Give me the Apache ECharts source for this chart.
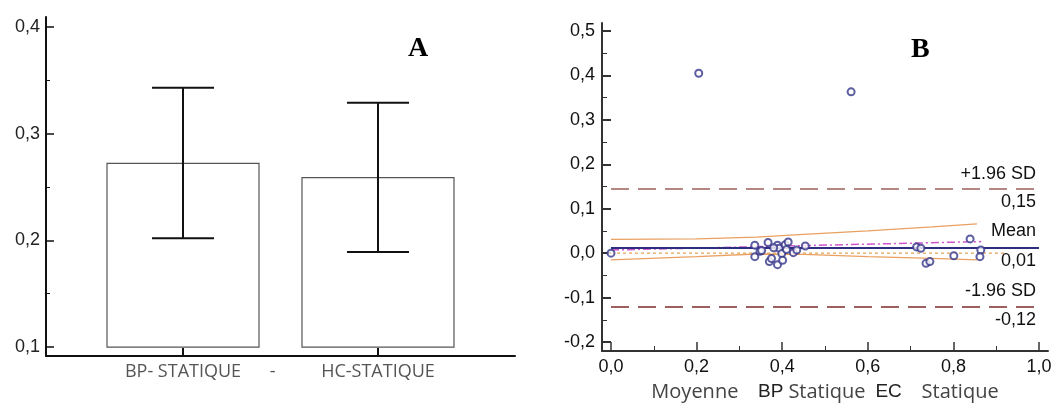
<!DOCTYPE html>
<html>
<head>
<meta charset="utf-8">
<script src="https://cdn.jsdelivr.net/npm/echarts@6/dist/echarts.min.js"></script>
<style>
  html, body { margin: 0; padding: 0; background: #fff; }
  #chart { width: 1056px; height: 405px; }
</style>
</head>
<body>
<div id="chart"></div>
<script>
// Panel A : moyennes et IC
const catLabelsA = ['BP- STATIQUE', '-', 'HC-STATIQUE'];
const catSlotsA = [1, 1.46, 2];
const barXA = [1, 2];
const meansA = [0.2722, 0.2588];
const lowA = [0.2019, 0.1891];
const highA = [0.3431, 0.3290];
const baseA = 0.1;
const yTicksA = [0.1, 0.2, 0.3, 0.4];
const yMinorA = [0.15, 0.25, 0.35];

// Panel B : Bland-Altman
const meanB = [0.000, 0.205, 0.561, 0.336, 0.336, 0.348, 0.367, 0.370, 0.375, 0.389,
  0.389, 0.393, 0.399, 0.401, 0.407, 0.414, 0.410, 0.426, 0.434, 0.454,
  0.714, 0.724, 0.736, 0.745, 0.801, 0.839, 0.864, 0.862, 0.352, 0.380];
const diffB = [0.000, 0.405, 0.363, 0.018, -0.008, 0.004, 0.024, -0.019, -0.012, 0.018,
  -0.026, 0.011, -0.001, -0.016, 0.019, 0.025, 0.008, 0.001, 0.007, 0.016,
  0.014, 0.011, -0.023, -0.019, -0.006, 0.032, 0.007, -0.008, 0.006, 0.012];
const meanDiff = 0.013;
const sdHigh = 0.146;
const sdLow = -0.12;
const limitLabels = ['+1.96 SD', '0,15', 'Mean', '0,01', '-1.96 SD', '-0,12'];
const regX = [0, 0.865];
const regY = [0.007, 0.026];
const ciX = [0, 0.2, 0.34, 0.45, 0.6, 0.75, 0.855];
const ciUpper = [0.031, 0.032, 0.036, 0.042, 0.050, 0.059, 0.066];
const ciLower = [-0.015, -0.008, -0.002, -0.003, -0.008, -0.012, -0.015];
const zeroLineX = [0, 0.92];
const xTicksB = [0, 0.2, 0.4, 0.6, 0.8, 1.0];
const xMinorB = [0.1, 0.3, 0.5, 0.7, 0.9];
const yTicksB = [-0.2, -0.1, 0, 0.1, 0.2, 0.3, 0.4, 0.5];
const yMinorB = [-0.15, -0.05, 0.05, 0.15, 0.25, 0.35, 0.45];

const comma = (v) => v.toFixed(1).replace('.', ',');

const chart = echarts.init(document.getElementById('chart'));

const tickAxis = (extra) => Object.assign({
  type: 'value',
  splitLine: { show: false }
}, extra);

const noLine = { show: false, onZero: false };
const hidden = 'rgba(0,0,0,0)';

const option = {
  animation: false,
  backgroundColor: '#fff',
  grid: [
    { left: 46, top: 17, width: 469, height: 339, outerBoundsMode: 'none' },
    { left: 602, top: 23, width: 446, height: 328, outerBoundsMode: 'none' }
  ],
  xAxis: [
    tickAxis({
      gridIndex: 0, min: 0.2974, max: 2.7026,
      axisLine: { onZero: false, lineStyle: { color: '#111', width: 2 } },
      axisTick: { inside: true, length: 8, customValues: barXA, lineStyle: { color: '#111', width: 2 } },
      axisLabel: {
        customValues: catSlotsA, margin: 7, fontSize: 18, color: '#555',
        fontFamily: 'Open Sans',
        formatter: (v) => catLabelsA[catSlotsA.findIndex(s => Math.abs(s - v) < 0.01)]
      }
    }),
    tickAxis({
      gridIndex: 1, min: -0.021, max: 1.021,
      axisLine: { onZero: false, lineStyle: { color: '#333', width: 2 } },
      axisTick: { inside: true, length: 9, customValues: xTicksB, lineStyle: { color: '#333', width: 1.5 } },
      axisLabel: { customValues: xTicksB, margin: 7, fontSize: 18, color: '#111', fontFamily: 'Liberation Sans', formatter: comma },
      name: '{a|Moyenne}    {b|BP} {a|Statique}  {b|EC}    {a|Statique}',
      nameLocation: 'middle', nameGap: 31,
      nameTextStyle: {
        fontSize: 19, fontFamily: 'Open Sans',
        rich: {
          a: { fontSize: 20, color: '#444', fontFamily: 'Open Sans' },
          b: { fontSize: 19, color: '#222', fontFamily: 'Liberation Sans' }
        }
      }
    }),
    tickAxis({
      gridIndex: 1, min: -0.021, max: 1.021, position: 'bottom',
      axisLine: noLine,
      axisTick: { inside: true, length: 5, customValues: xMinorB, lineStyle: { color: '#333', width: 1 } },
      axisLabel: { show: false }
    })
  ],
  yAxis: [
    tickAxis({
      gridIndex: 0, min: 0.0916, max: 0.4094, position: 'left',
      axisLine: { show: true, onZero: false, lineStyle: { color: '#111', width: 2 } },
      axisTick: { inside: true, length: 8, customValues: yTicksA, lineStyle: { color: '#111', width: 1.5 } },
      axisLabel: { customValues: yTicksA, margin: 6, fontSize: 18, color: '#222', fontFamily: 'Liberation Sans', formatter: comma }
    }),
    tickAxis({
      gridIndex: 0, min: 0.0916, max: 0.4094, position: 'left',
      axisLine: noLine,
      axisTick: { inside: true, length: 4, customValues: yMinorA, lineStyle: { color: '#111', width: 1 } },
      axisLabel: { show: false }
    }),
    tickAxis({
      gridIndex: 1, min: -0.2203, max: 0.518, position: 'left',
      axisLine: { show: true, onZero: false, lineStyle: { color: '#333', width: 2 } },
      axisTick: { inside: true, length: 9, customValues: yTicksB, lineStyle: { color: '#333', width: 2 } },
      axisLabel: { customValues: yTicksB, margin: 7, fontSize: 18, color: '#111', fontFamily: 'Liberation Sans', formatter: comma }
    }),
    tickAxis({
      gridIndex: 1, min: -0.2203, max: 0.518, position: 'left',
      axisLine: noLine,
      axisTick: { inside: true, length: 5, customValues: yMinorB, lineStyle: { color: '#333', width: 1 } },
      axisLabel: { show: false }
    })
  ],
  graphic: [
    { type: 'text', left: 408, top: 35, style: { text: 'A', font: 'bold 28px "Liberation Serif"', fill: '#000' } },
    { type: 'text', left: 911, top: 36, style: { text: 'B', font: 'bold 28px "Liberation Serif"', fill: '#000' } }
  ],
  series: [
    // barres
    {
      type: 'custom', xAxisIndex: 0, yAxisIndex: 0,
      data: barXA.map((x, i) => [x, meansA[i]]),
      renderItem: (params, api) => {
        const top = api.coord([api.value(0), api.value(1)]);
        const bot = api.coord([api.value(0), baseA]);
        const w = 152;
        return {
          type: 'rect',
          shape: { x: top[0] - w / 2, y: top[1], width: w, height: bot[1] - top[1] },
          style: { fill: '#fff', stroke: '#555', lineWidth: 1.2 }
        };
      }
    },
    // barres d'erreur
    {
      type: 'custom', xAxisIndex: 0, yAxisIndex: 0,
      data: barXA.map((x, i) => [x, lowA[i], highA[i]]),
      renderItem: (params, api) => {
        const lo = api.coord([api.value(0), api.value(1)]);
        const hi = api.coord([api.value(0), api.value(2)]);
        const c = 31;
        const st = { stroke: '#111', lineWidth: 2 };
        return {
          type: 'group',
          children: [
            { type: 'line', shape: { x1: lo[0], y1: lo[1], x2: hi[0], y2: hi[1] }, style: st },
            { type: 'line', shape: { x1: lo[0] - c, y1: lo[1], x2: lo[0] + c, y2: lo[1] }, style: st },
            { type: 'line', shape: { x1: hi[0] - c, y1: hi[1], x2: hi[0] + c, y2: hi[1] }, style: st }
          ]
        };
      }
    },
    // IC régression
    {
      type: 'line', xAxisIndex: 1, yAxisIndex: 2, symbol: 'none',
      data: ciX.map((x, i) => [x, ciUpper[i]]),
      lineStyle: { color: '#e9a060', width: 1.3 }
    },
    {
      type: 'line', xAxisIndex: 1, yAxisIndex: 2, symbol: 'none',
      data: ciX.map((x, i) => [x, ciLower[i]]),
      lineStyle: { color: '#e9a060', width: 1.3 }
    },
    // ligne zéro
    {
      type: 'line', xAxisIndex: 1, yAxisIndex: 2, symbol: 'none',
      data: zeroLineX.map(x => [x, 0]),
      lineStyle: { color: '#e2a050', width: 1.2, type: [3, 3] }
    },
    // régression
    {
      type: 'line', xAxisIndex: 1, yAxisIndex: 2, symbol: 'none',
      data: regX.map((x, i) => [x, regY[i]]),
      lineStyle: { color: '#cc55cc', width: 1.5, type: [8, 3, 2, 3] }
    },
    // moyenne et limites
    {
      type: 'line', xAxisIndex: 1, yAxisIndex: 2, symbol: 'none', data: [],
      markLine: {
        symbol: 'none', silent: true,
        label: { fontSize: 18, color: '#111', fontFamily: 'Liberation Sans', distance: [3, 5] },
        data: [
          [{ coord: [0, sdHigh], lineStyle: { color: '#9c5f5c', width: 1.5, type: [18, 9] },
             label: { position: 'insideEndTop', formatter: limitLabels[0] } }, { coord: [1, sdHigh] }],
          [{ coord: [0, sdHigh], lineStyle: { color: hidden },
             label: { position: 'insideEndBottom', formatter: limitLabels[1] } }, { coord: [1, sdHigh] }],
          [{ coord: [0, meanDiff], lineStyle: { color: '#2e2e80', width: 2, type: 'solid' },
             label: { position: 'insideEndTop', formatter: limitLabels[2], distance: [3, 7] } }, { coord: [1, meanDiff] }],
          [{ coord: [0, meanDiff], lineStyle: { color: hidden },
             label: { position: 'insideEndBottom', formatter: limitLabels[3] } }, { coord: [1, meanDiff] }],
          [{ coord: [0, sdLow], lineStyle: { color: '#7e2a2a', width: 1.5, type: [18, 9] },
             label: { position: 'insideEndTop', formatter: limitLabels[4], distance: [3, 6] } }, { coord: [1, sdLow] }],
          [{ coord: [0, sdLow], lineStyle: { color: hidden },
             label: { position: 'insideEndBottom', formatter: limitLabels[5] } }, { coord: [1, sdLow] }]
        ]
      }
    },
    // points
    {
      type: 'scatter', xAxisIndex: 1, yAxisIndex: 2,
      symbol: 'emptyCircle', symbolSize: 7,
      data: meanB.map((x, i) => [x, diffB[i]]),
      itemStyle: { color: '#35358a', borderWidth: 1.2 },
      z: 5
    }
  ]
};

chart.setOption(option);
</script>
</body>
</html>
